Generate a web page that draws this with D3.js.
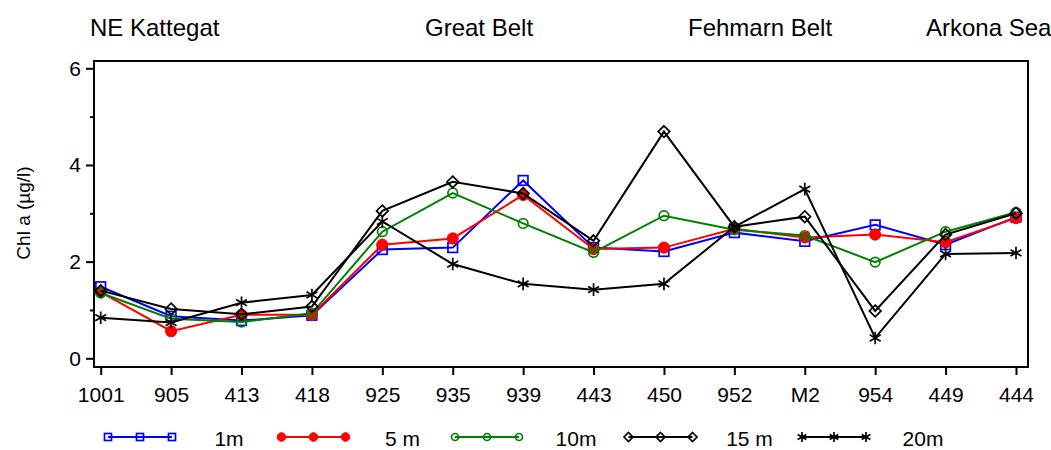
<!DOCTYPE html>
<html>
<head>
<meta charset="utf-8">
<script src="https://cdn.jsdelivr.net/npm/d3@7"></script>
<style>
  body { margin: 0; background: #fff; }
  svg { display: block; font-family: 'Liberation Sans', Arial, sans-serif; }
</style>
</head>
<body>
<div id="viz"></div>
<script>
// Données
const stations = ['1001', '905', '413', '418', '925', '935', '939', '443', '450', '952', 'M2', '954', '449', '444'];
const regions = ['NE Kattegat', 'Great Belt', 'Fehmarn Belt', 'Arkona Sea'];
const seriesNames = ['1m', '5 m', '10m', '15 m', '20m'];
const chl1m = [1.48, 0.87, 0.78, 0.89, 2.25, 2.29, 3.68, 2.29, 2.21, 2.60, 2.42, 2.76, 2.35, 2.92];
const chl5m = [1.37, 0.56, 0.90, 0.90, 2.35, 2.48, 3.38, 2.26, 2.29, 2.68, 2.50, 2.56, 2.40, 2.90];
const chl10m = [1.35, 0.82, 0.75, 0.93, 2.62, 3.42, 2.79, 2.19, 2.95, 2.66, 2.54, 1.99, 2.62, 3.02];
const chl15m = [1.40, 1.02, 0.91, 1.07, 3.05, 3.65, 3.41, 2.43, 4.69, 2.72, 2.93, 0.98, 2.56, 3.00];
const chl20m = [0.84, 0.74, 1.15, 1.31, 2.83, 1.95, 1.54, 1.42, 1.54, 2.72, 3.50, 0.42, 2.16, 2.18];
const yTicks = [0, 2, 4, 6];
const yMinorTicks = [1, 3, 5];

const config = {
  width: 1051,
  height: 450,
  box: { left: 94, right: 1028, top: 61, bottom: 367 },
  tickFont: 21
}

const series = [
  { name: seriesNames[0], values: chl1m, color: '#0000ff', marker: 'square' },
  { name: seriesNames[1], values: chl5m, color: '#ff0000', marker: 'dot' },
  { name: seriesNames[2], values: chl10m, color: '#008000', marker: 'circle' },
  { name: seriesNames[3], values: chl15m, color: '#000000', marker: 'diamond' },
  { name: seriesNames[4], values: chl20m, color: '#000000', marker: 'star' }
]

const svg = d3.select('#viz').append('svg')
  .attr('width', config.width)
  .attr('height', config.height);

const xScale = d3.scalePoint()
  .domain(stations)
  .range([100.7, 1016]);

const yScale = d3.scaleLinear()
  .domain([0, 6])
  .range([358.3, 68.3]);

drawAxes();
drawSeries();
drawLegend();
drawLabels();

function drawAxes () {
  const b = config.box;
  // Cadre du graphique
  svg.append('rect')
    .attr('x', b.left).attr('y', b.top)
    .attr('width', b.right - b.left).attr('height', b.bottom - b.top)
    .attr('fill', 'none').attr('stroke', '#000').attr('stroke-width', 2);

  const yAxis = svg.append('g')
    .attr('transform', `translate(${b.left},0)`)
    .call(d3.axisLeft(yScale).tickValues(yTicks).tickSize(8).tickPadding(5).tickFormat(d3.format('d')));
  yAxis.select('.domain').remove();
  yAxis.selectAll('line').attr('stroke-width', 2);
  yAxis.selectAll('text').attr('font-size', config.tickFont).attr('fill', '#000');

  const yMinor = svg.append('g')
    .attr('transform', `translate(${b.left},0)`)
    .call(d3.axisLeft(yScale).tickValues(yMinorTicks).tickSize(4).tickFormat(''));
  yMinor.select('.domain').remove();
  yMinor.selectAll('line').attr('stroke-width', 2);

  const xAxis = svg.append('g')
    .attr('transform', `translate(0,${b.bottom})`)
    .call(d3.axisBottom(xScale).tickSize(8).tickPadding(12));
  xAxis.select('.domain').remove();
  xAxis.selectAll('line').attr('stroke-width', 2);
  xAxis.selectAll('text').attr('font-size', config.tickFont).attr('fill', '#000');
}

function drawMarker (g, type, color, size) {
  const s = size;
  if (type === 'square') {
    g.append('rect').attr('x', -s).attr('y', -s).attr('width', 2 * s).attr('height', 2 * s)
      .attr('fill', 'none').attr('stroke', color).attr('stroke-width', 1.7);
  } else if (type === 'dot') {
    g.append('circle').attr('r', s + 0.8).attr('fill', color).attr('stroke', color);
  } else if (type === 'circle') {
    g.append('circle').attr('r', s).attr('fill', 'none').attr('stroke', color).attr('stroke-width', 1.7);
  } else if (type === 'diamond') {
    const r = s + 1;
    g.append('path').attr('d', `M0,${-r}L${r},0L0,${r}L${-r},0Z`)
      .attr('fill', 'none').attr('stroke', color).attr('stroke-width', 1.7);
  } else if (type === 'star') {
    const r = s + 1.5;
    const a = r * Math.cos(Math.PI / 6), c = r * Math.sin(Math.PI / 6);
    g.append('path').attr('d', `M0,${-r}L0,${r}M${-a},${-c}L${a},${c}M${-a},${c}L${a},${-c}`)
      .attr('stroke', color).attr('stroke-width', 1.7);
  }
}

function drawSeries () {
  const line = d3.line()
    .x((d, i) => xScale(stations[i]))
    .y(d => yScale(d));

  series.forEach(s => {
    const g = svg.append('g').attr('class', 'series');
    g.append('path')
      .attr('d', line(s.values))
      .attr('fill', 'none')
      .attr('stroke', s.color)
      .attr('stroke-width', 2);
    s.values.forEach((v, i) => {
      const m = g.append('g').attr('transform', `translate(${xScale(stations[i])},${yScale(v)})`);
      drawMarker(m, s.marker, s.color, 4.8);
    });
  });
}

function drawLegend () {
  const ly = 437;
  series.forEach((s, i) => {
    const x0 = 108 + i * 173.5;
    const g = svg.append('g').attr('class', 'legend');
    g.append('line').attr('x1', x0).attr('x2', x0 + 64).attr('y1', ly).attr('y2', ly)
      .attr('stroke', s.color).attr('stroke-width', 2);
    [0, 32, 64].forEach(dx => {
      const m = g.append('g').attr('transform', `translate(${x0 + dx},${ly})`);
      drawMarker(m, s.marker, s.color, 3.5);
    });
    g.append('text')
      .attr('x', x0 + 121).attr('y', ly + 9)
      .attr('text-anchor', 'middle')
      .attr('font-size', 21)
      .text(s.name);
  });
}

function drawLabels () {
  // Régions au-dessus du graphique
  const regionX = [90, 425, 688, 926];
  regions.forEach((r, i) => {
    svg.append('text')
      .attr('x', regionX[i]).attr('y', 36)
      .attr('font-size', 24)
      .text(r);
  });

  svg.append('text')
    .text('Chl a (µg/l)')
    .attr('transform', 'translate(30,213),rotate(-90)')
    .attr('text-anchor', 'middle')
    .attr('font-size', 19);
}
</script>
</body>
</html>
